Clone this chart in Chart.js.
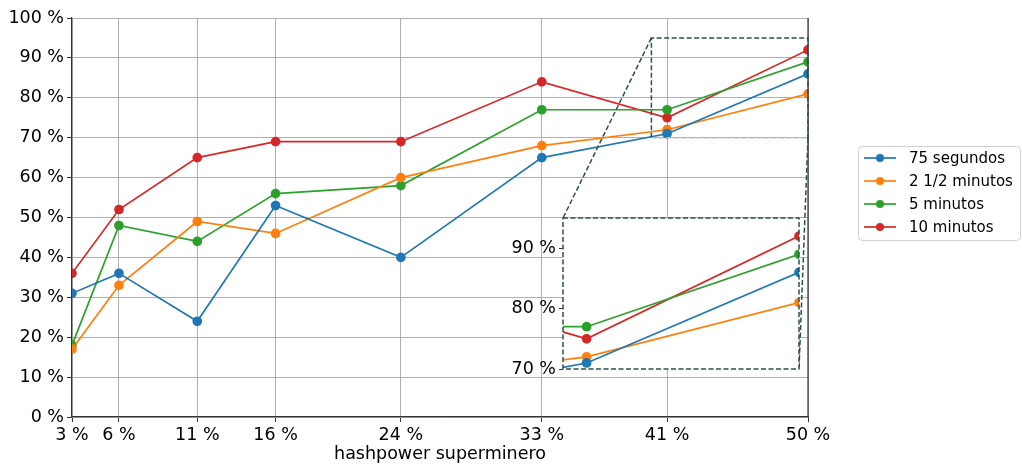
<!DOCTYPE html>
<html>
<head>
<meta charset="utf-8">
<script src="https://cdn.jsdelivr.net/npm/chart.js@4.4.1/dist/chart.umd.min.js"></script>
<style>
  body { margin: 0; background: #fff; }
  #wrap { position: relative; width: 1022px; height: 468px; }
  #mainChart { position: absolute; left: 0; top: 0; }
  #insetChart { position: absolute; left: 500px; top: 196px; }
</style>
</head>
<body>
<div id="wrap">
  <canvas id="mainChart" width="1022" height="468"></canvas>
  <canvas id="insetChart" width="305" height="196"></canvas>
</div>
<script>
const hashpower = [3, 6, 11, 16, 24, 33, 41, 50];
const seg75 = [31, 36, 24, 53, 40, 65, 71, 86];
const min2half = [17, 33, 49, 46, 60, 68, 72, 81];
const min5 = [18, 48, 44, 56, 58, 77, 77, 89];
const min10 = [36, 52, 65, 69, 69, 84, 75, 92];
const seriesLabels = ['75 segundos', '2 1/2 minutos', '5 minutos', '10 minutos'];
const seriesColors = ['#1f77b4', '#ff7f0e', '#2ca02c', '#d62728'];
const yTicks = [0, 10, 20, 30, 40, 50, 60, 70, 80, 90, 100];
const zoomX = [40, 50];
const zoomY = [70, 95];
const insetYTicks = [70, 80, 90];

// where the inset canvas sits on the page (must match the css above)
const insetLeft = 500, insetTop = 196, insetW = 305, insetH = 196;
const insetBox = { left: 563, top: 218, right: 799, bottom: 369 };

Chart.defaults.font.family = 'DejaVu Sans';
Chart.defaults.font.size = 17.5;
Chart.defaults.color = '#000';

function makeDatasets() {
    return [seg75, min2half, min5, min10].map((vals, i) => ({
        label: seriesLabels[i],
        data: vals.map((v, j) => ({ x: hashpower[j], y: v })),
        borderColor: seriesColors[i],
        backgroundColor: seriesColors[i],
        borderWidth: 1.7,
        pointRadius: 4,
        pointHoverRadius: 4,
        tension: 0
    }));
}

const decorPlugin = {
    id: 'decor',
    afterDraw(chart) {
        const ctx = chart.ctx;
        const a = chart.chartArea;
        const xs = chart.scales.x, ys = chart.scales.y;
        ctx.save();
        // right spine
        ctx.strokeStyle = '#333';
        ctx.lineWidth = 1.2;
        ctx.beginPath();
        ctx.moveTo(a.right, a.top);
        ctx.lineTo(a.right, a.bottom);
        ctx.stroke();

        // zoom rectangle + connectors
        const x0 = xs.getPixelForValue(zoomX[0]), x1 = xs.getPixelForValue(zoomX[1]);
        const y0 = ys.getPixelForValue(zoomY[1]), y1 = ys.getPixelForValue(zoomY[0]);
        ctx.setLineDash([5, 2.5]);
        ctx.lineWidth = 1.5;
        ctx.strokeStyle = '#2f4f4f';
        ctx.beginPath();
        ctx.moveTo(x0, y1);
        ctx.lineTo(x0, y0);
        ctx.lineTo(x1, y0);
        ctx.lineTo(x1, y1);
        ctx.stroke();
        ctx.beginPath();
        ctx.moveTo(x0, y0);
        ctx.lineTo(insetBox.left, insetBox.top);
        ctx.moveTo(x1, y1);
        ctx.lineTo(insetBox.right, insetBox.bottom);
        ctx.stroke();
        ctx.strokeStyle = '#b8b8b8';
        ctx.beginPath();
        ctx.moveTo(x0, y1);
        ctx.lineTo(x1, y1);
        ctx.stroke();
        ctx.setLineDash([]);

        // legend
        const lx = 858, ly = 146, lw = 162, lh = 94;
        ctx.fillStyle = 'rgba(255,255,255,0.8)';
        ctx.strokeStyle = '#d0d0d0';
        ctx.lineWidth = 1;
        ctx.beginPath();
        ctx.roundRect(lx + 0.5, ly + 0.5, lw, lh, 4);
        ctx.fill();
        ctx.stroke();
        ctx.font = '15px "DejaVu Sans"';
        ctx.textBaseline = 'middle';
        chart.data.datasets.forEach((ds, i) => {
            const yy = ly + 12 + i * 23;
            ctx.strokeStyle = ds.borderColor;
            ctx.lineWidth = 1.7;
            ctx.beginPath();
            ctx.moveTo(lx + 6, yy);
            ctx.lineTo(lx + 38, yy);
            ctx.stroke();
            ctx.fillStyle = ds.borderColor;
            ctx.beginPath();
            ctx.arc(lx + 22, yy, 4, 0, Math.PI * 2);
            ctx.fill();
            ctx.fillStyle = '#000';
            ctx.fillText(ds.label, lx + 51, yy + 1);
        });
        ctx.restore();
    }
};

new Chart(document.getElementById('mainChart'), {
    type: 'line',
    data: { datasets: makeDatasets() },
    options: {
        responsive: false,
        animation: false,
        events: [],
        layout: { padding: { left: 0, top: 18, right: 214, bottom: 0 } },
        plugins: { legend: { display: false }, tooltip: { enabled: false } },
        scales: {
            x: {
                type: 'linear',
                min: 3,
                max: 50,
                afterBuildTicks: s => { s.ticks = hashpower.map(v => ({ value: v })); },
                afterFit: s => { s.height = 51; },
                ticks: { callback: v => v + ' %', padding: 3, maxRotation: 0, autoSkip: false },
                grid: { color: '#b0b0b0', tickColor: '#333', tickLength: 5, lineWidth: 1 },
                border: { color: '#333', width: 1.2 },
                title: { display: true, text: 'hashpower superminero', padding: { top: 0, bottom: 3 } }
            },
            y: {
                min: 0,
                max: 100,
                afterBuildTicks: s => { s.ticks = yTicks.map(v => ({ value: v })); },
                afterFit: s => { s.width = 72; },
                ticks: { callback: v => v + ' %', padding: 3 },
                grid: { color: '#b0b0b0', tickColor: '#333', tickLength: 5, lineWidth: 1 },
                border: { color: '#333', width: 1.2 }
            }
        }
    },
    plugins: [decorPlugin]
});

const insetPlugin = {
    id: 'insetFrame',
    beforeDraw(chart) {
        const a = chart.chartArea;
        chart.ctx.save();
        chart.ctx.fillStyle = '#fff';
        chart.ctx.fillRect(a.left, a.top, a.right - a.left, a.bottom - a.top);
        chart.ctx.restore();
    },
    afterDraw(chart) {
        const a = chart.chartArea;
        const ctx = chart.ctx;
        ctx.save();
        ctx.setLineDash([5, 2.5]);
        ctx.lineWidth = 1.5;
        ctx.strokeStyle = '#2f4f4f';
        ctx.strokeRect(a.left, a.top, a.right - a.left, a.bottom - a.top);
        ctx.restore();
    }
};

new Chart(document.getElementById('insetChart'), {
    type: 'line',
    data: { datasets: makeDatasets() },
    options: {
        responsive: false,
        animation: false,
        events: [],
        layout: {
            padding: {
                left: 0,
                top: insetBox.top - insetTop,
                right: insetW - (insetBox.right - insetLeft),
                bottom: insetH - (insetBox.bottom - insetTop)
            }
        },
        plugins: { legend: { display: false }, tooltip: { enabled: false } },
        scales: {
            x: { type: 'linear', min: zoomX[0], max: zoomX[1], display: false },
            y: {
                min: zoomY[0],
                max: zoomY[1],
                afterBuildTicks: s => { s.ticks = insetYTicks.map(v => ({ value: v })); },
                afterFit: s => { s.width = insetBox.left - insetLeft; },
                ticks: { callback: v => v + ' %', padding: 3 },
                grid: { drawOnChartArea: false, tickColor: '#333', tickLength: 4 },
                border: { display: false }
            }
        }
    },
    plugins: [insetPlugin]
});
</script>
</body>
</html>
